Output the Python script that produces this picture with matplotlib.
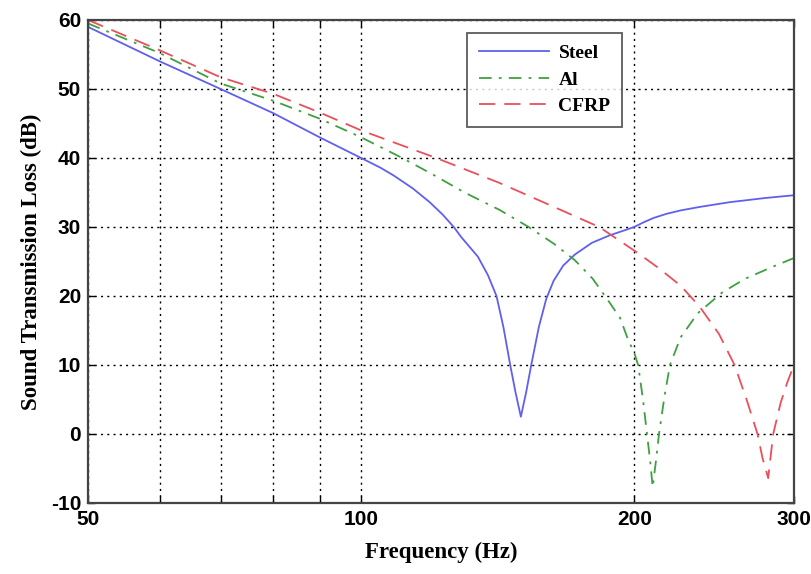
import numpy as np
import matplotlib
matplotlib.use('Agg')
import matplotlib.pyplot as plt
from matplotlib.ticker import FixedLocator, NullFormatter

# transmission loss curves (Hz, dB)
freq_steel = [50, 60, 70, 80, 90, 100, 105, 108.5, 114, 119, 123, 126.5, 129,
              134.5, 138, 141, 143.5, 146, 148, 150, 152, 154, 157, 160,
              163, 167, 172, 179.6, 188, 196, 200, 205, 210, 217, 225, 236,
              255, 279, 300]
tl_steel = [59, 54, 50, 46.5, 43, 40, 38.6, 37.5, 35.6, 33.6, 31.8, 30, 28.5,
            25.7, 23, 20, 15.5, 10, 6, 2.5, 6, 10, 15.5, 19.6,
            22.2, 24.4, 26, 27.7, 28.8, 29.6, 30, 30.7, 31.3, 31.9, 32.4, 32.9,
            33.6, 34.2, 34.6]

freq_al = [50, 60, 70, 80, 90, 100, 111, 120, 130, 142, 153, 163, 172, 180,
           188, 193, 197, 200, 202, 204.5, 206.6, 208.3, 209.6, 211.3, 213,
           216, 219, 225, 235, 250, 265, 285, 300]
tl_al = [59.5, 55.2, 50.8, 48.3, 45.7, 43, 40, 37.6, 35, 32.5, 30, 27.6, 25.2,
         22.5, 19, 16.8, 13.6, 11.8, 10, 5, 0, -4, -7.7, -4, 0,
         5.5, 10, 14, 17.5, 20.5, 22.5, 24.3, 25.5]

freq_cfrp = [50, 60, 70, 80, 90, 100, 110, 121, 142, 160, 183, 202, 213, 225,
             236, 248, 258, 266, 273.5, 277, 281, 282.8, 284.6, 290, 295, 300]
tl_cfrp = [60, 55.6, 51.7, 49.3, 46.6, 44, 42, 40, 36.4, 33.4, 30, 26.2, 24,
           21.5, 18.5, 14.5, 10, 5, 0, -3.5, -6.4, -3.2, 0, 4.5, 7.5, 10]

labels = ['Steel', 'Al', 'CFRP']
x_ticks = [50, 100, 200, 300]
y_ticks = list(range(-10, 61, 10))

plt.rcParams['font.family'] = ['Liberation Serif', 'DejaVu Serif']
plt.rcParams['font.weight'] = 'bold'
plt.rcParams['axes.unicode_minus'] = False

fig = plt.figure(figsize=(8.11, 5.74), dpi=100)
ax = fig.add_axes([0.1085, 0.1237, 0.8705, 0.8415])

ax.plot(freq_steel, tl_steel, '-', color='#6060ec', lw=1.3, label=labels[0])
ax.plot(freq_al, tl_al, '-.', color='#40a040', lw=1.3, label=labels[1],
        dashes=(7, 4, 1.5, 4))
ax.plot(freq_cfrp, tl_cfrp, '--', color='#e8505c', lw=1.3,
        dashes=(9, 5), label=labels[2])

ax.set_xscale('log')
ax.set_xlim(50, 300)
ax.set_ylim(-10, 60)
ax.xaxis.set_major_locator(FixedLocator(x_ticks))
ax.xaxis.set_minor_locator(FixedLocator([60, 70, 80, 90]))
ax.xaxis.set_minor_formatter(NullFormatter())
ax.set_xticklabels([str(t) for t in x_ticks])
ax.set_yticks(y_ticks)

ax.grid(True, which='both', axis='x', ls=(0, (1.5, 3)), color='black', lw=1.0)
ax.grid(True, which='major', axis='y', ls=(0, (1.5, 3)), color='black', lw=1.0)

ax.tick_params(which='both', direction='in', top=True, right=True,
               labelsize=15, length=5, width=1.0, pad=5)
for lab in ax.get_xticklabels() + ax.get_yticklabels():
    lab.set_family(['Liberation Sans', 'DejaVu Sans'])
    lab.set_fontweight('bold')
for s in ax.spines.values():
    s.set_color('#444444')
    s.set_linewidth(1.6)

ax.set_xlabel('Frequency (Hz)', fontsize=16.5, fontweight='bold', labelpad=9)
ax.set_ylabel('Sound Transmission Loss (dB)', fontsize=16.5, fontweight='bold',
              labelpad=6)

leg = ax.legend(loc='upper left', bbox_to_anchor=(0.537, 0.973),
                fontsize=14, frameon=True, fancybox=False, handlelength=3.6,
                handletextpad=0.5, borderpad=0.6, labelspacing=0.45,
                borderaxespad=0)
leg.get_frame().set_edgecolor('#333333')
leg.get_frame().set_linewidth(1.3)
for t in leg.get_texts():
    t.set_fontweight('bold')

fig.savefig('out.png', dpi=100)
